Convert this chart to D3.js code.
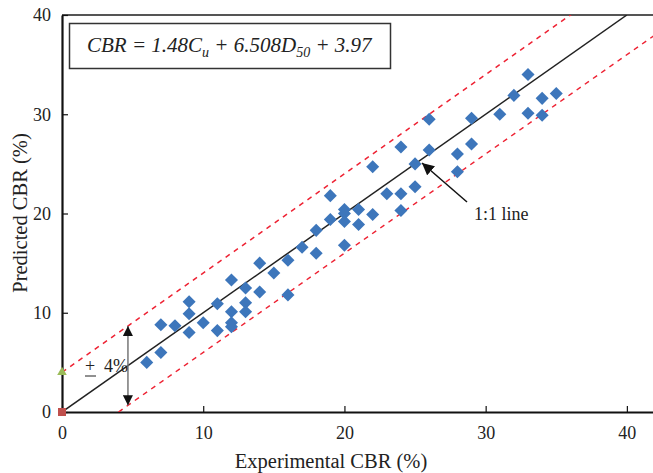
<!DOCTYPE html>
<html><head><meta charset="utf-8">
<script src="https://cdn.jsdelivr.net/npm/d3@7"></script>
<style>body{margin:0;background:#fff}svg{display:block}text{font-family:"Liberation Serif","Times New Roman",serif}</style>
</head><body>
<svg id="c" width="653" height="473"></svg>
<script>
const experimental = [6,7,7,8,9,9,9,10,11,11,12,12,12,12,13,13,13,14,14,15,16,16,17,18,18,19,19,20,20,20,20,21,21,22,22,23,24,24,24,25,25,26,26,28,28,29,29,31,32,33,33,34,34,35];
const predicted    = [5.0,6.0,8.8,8.7,8.0,9.9,11.1,9.0,8.2,10.9,13.3,10.1,9.0,8.6,12.5,11.0,10.1,15.0,12.1,14.0,15.3,11.8,16.6,18.3,16.0,21.8,19.4,20.4,20.0,19.2,16.8,20.4,18.9,24.7,19.9,22.0,26.7,22.0,20.3,25.0,22.7,29.5,26.4,26.0,24.2,29.6,27.0,30.0,31.9,34.0,30.1,31.6,29.9,32.1];
const xTicks = [0,10,20,30,40];
const yTicks = [0,10,20,30,40];
const band = 4;

const svg = d3.select("#c");
const x = d3.scaleLinear().domain([0, 41.85]).range([62, 653]);
const y = d3.scaleLinear().domain([0, 40]).range([412, 15]);

svg.append("clipPath").attr("id","clip").append("rect")
  .attr("x", x(0)).attr("y", y(40)).attr("width", x(41.85)-x(0)).attr("height", y(0)-y(40));

// frame top
svg.append("line").attr("x1", x(0)).attr("x2", 653).attr("y1", y(40)).attr("y2", y(40))
  .attr("stroke", "#555").attr("stroke-width", 2);

// axes
const xAxis = d3.axisBottom(x).tickValues(xTicks).tickSizeInner(-6).tickSizeOuter(0).tickPadding(14);
const yAxis = d3.axisLeft(y).tickValues(yTicks).tickSizeInner(-6).tickSizeOuter(0).tickPadding(11);
const gx = svg.append("g").attr("transform", `translate(0,${y(0)})`).call(xAxis);
const gy = svg.append("g").attr("transform", `translate(${x(0)},0)`).call(yAxis);
[gx, gy].forEach(g => {
  g.select(".domain").attr("stroke", "#111").attr("stroke-width", 2.2);
  g.selectAll(".tick line").attr("stroke", "#111").attr("stroke-width", 1.2);
  g.selectAll(".tick text").attr("font-family", "Liberation Serif").attr("font-size", 18).attr("fill", "#222");
});

// lines
const plot = svg.append("g").attr("clip-path", "url(#clip)");
plot.append("line").attr("x1", x(0)).attr("y1", y(band)).attr("x2", x(40)).attr("y2", y(40+band))
  .attr("stroke", "#ee2233").attr("stroke-width", 1.5).attr("stroke-dasharray", "5,5");
plot.append("line").attr("x1", x(band)).attr("y1", y(0)).attr("x2", x(45)).attr("y2", y(45-band))
  .attr("stroke", "#ee2233").attr("stroke-width", 1.5).attr("stroke-dasharray", "5,5");
plot.append("line").attr("x1", x(0)).attr("y1", y(0)).attr("x2", x(40)).attr("y2", y(40))
  .attr("stroke", "#222").attr("stroke-width", 1.5);

// points
const diamond = d3.symbol().type(d3.symbolSquare).size(85);
svg.append("g").selectAll("path").data(experimental.map((e,i)=>[e, predicted[i]])).join("path")
  .attr("d", diamond)
  .attr("transform", d => `translate(${x(d[0])},${y(d[1])}) rotate(45)`)
  .attr("fill", "#3d76bb");

// origin markers
svg.append("rect").attr("x", x(0)-4).attr("y", y(0)-4).attr("width", 8).attr("height", 8).attr("fill", "#c0504d");
svg.append("path").attr("d", d3.symbol().type(d3.symbolTriangle).size(40))
  .attr("transform", `translate(${x(0)},${y(band)})`).attr("fill", "#9bbb59");

// arrow markers
const defs = svg.append("defs");
defs.append("marker").attr("id","ah").attr("viewBox","0 0 10 10").attr("refX",10).attr("refY",5)
  .attr("markerWidth",10).attr("markerHeight",10).attr("markerUnits","userSpaceOnUse").attr("orient","auto-start-reverse")
  .append("path").attr("d","M0,0 L10,5 L0,10 Z").attr("fill","#111");
defs.append("marker").attr("id","ah2").attr("viewBox","0 0 10 10").attr("refX",10).attr("refY",5)
  .attr("markerWidth",12).attr("markerHeight",12).attr("markerUnits","userSpaceOnUse").attr("orient","auto")
  .append("path").attr("d","M0,0 L10,5 L0,10 Z").attr("fill","#111");

// ±4% arrow
const ax = 4.67;
svg.append("line").attr("x1", x(ax)).attr("x2", x(ax)).attr("y1", y(ax+band)).attr("y2", y(ax-band))
  .attr("stroke", "#777").attr("stroke-width", 1.5)
  .attr("marker-start", "url(#ah)").attr("marker-end", "url(#ah)");
svg.append("text").attr("x", 85).attr("y", 372).attr("font-size", 18).attr("fill", "#222").text("+");
svg.append("line").attr("x1", 85).attr("x2", 96).attr("y1", 376).attr("y2", 376).attr("stroke", "#222").attr("stroke-width", 1);
svg.append("text").attr("x", 104).attr("y", 372).attr("font-size", 18).attr("fill", "#222").text("4%");

// 1:1 line annotation
svg.append("line").attr("x1", 467).attr("y1", 202).attr("x2", 422).attr("y2", 163)
  .attr("stroke", "#111").attr("stroke-width", 1.5).attr("marker-end", "url(#ah2)");
svg.append("text").attr("x", 474).attr("y", 220).attr("font-size", 18).attr("fill", "#222").text("1:1 line");

// equation box
svg.append("rect").attr("x", 69.5).attr("y", 23.5).attr("width", 321).attr("height", 45)
  .attr("fill", "#fff").attr("stroke", "#333").attr("stroke-width", 1.5);
const eq = svg.append("text").attr("x", 87).attr("y", 52).attr("font-size", 21).attr("font-style", "italic").attr("fill", "#222");
eq.append("tspan").text("CBR = 1.48C");
eq.append("tspan").attr("font-size", 14).attr("dy", 5).text("u");
eq.append("tspan").attr("dy", -5).text(" + 6.508D");
eq.append("tspan").attr("font-size", 14).attr("dy", 5).text("50");
eq.append("tspan").attr("dy", -5).text(" + 3.97");

// axis titles
svg.append("text").attr("x", 331).attr("y", 468).attr("text-anchor", "middle").attr("font-size", 20.5).attr("fill", "#222").text("Experimental CBR (%)");
svg.append("text").attr("transform", "translate(27,213) rotate(-90)").attr("text-anchor", "middle").attr("font-size", 20.5).attr("fill", "#222").text("Predicted CBR (%)");
</script>
</body></html>
